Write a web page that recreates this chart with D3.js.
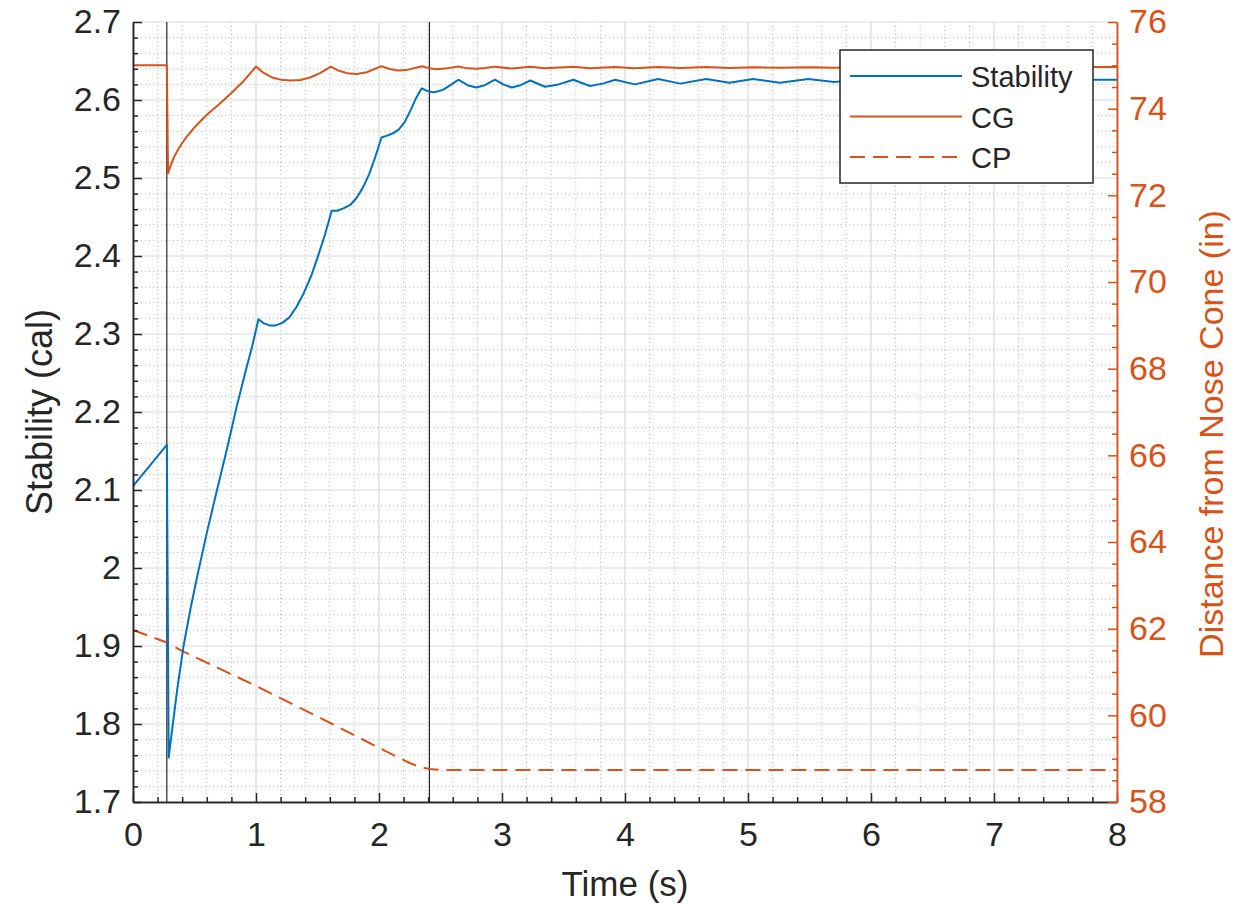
<!DOCTYPE html>
<html>
<head>
<meta charset="utf-8">
<script src="https://cdn.jsdelivr.net/npm/d3@7"></script>
<style>
  body { margin: 0; background: #fff; }
  svg text { font-family: "Liberation Sans", Arial, Helvetica, sans-serif; }
</style>
</head>
<body>
<svg id="chart" width="1239" height="905"></svg>
<script>
// ---- flight data ----
const stabilityTime = [0, 0.275, 0.29, 0.32, 0.36, 0.41, 0.47, 0.53, 0.6, 0.68, 0.76, 0.84, 0.92, 0.97, 1.02,
  1.06, 1.11, 1.16, 1.21, 1.27, 1.33, 1.39, 1.45, 1.5, 1.56, 1.615, 1.66, 1.71, 1.77, 1.82, 1.87, 1.92, 1.97,
  2.02, 2.06, 2.11, 2.16, 2.21, 2.26, 2.3, 2.347, 2.4, 2.45, 2.52, 2.58, 2.645, 2.72, 2.79, 2.86, 2.943, 3.01,
  3.08, 3.15, 3.23, 3.35, 3.46, 3.58, 3.715, 3.82, 3.92, 4.08, 4.27, 4.45, 4.66, 4.85, 5.04, 5.26, 5.49, 5.7,
  5.9, 6.3, 6.7, 7.1, 7.5, 8];
const stabilityCal = [2.105, 2.158, 1.757, 1.795, 1.845, 1.899, 1.95, 1.995, 2.045, 2.098, 2.15, 2.205, 2.255, 2.285, 2.319,
  2.314, 2.311, 2.311, 2.314, 2.321, 2.335, 2.353, 2.375, 2.398, 2.427, 2.458, 2.458, 2.461, 2.466, 2.475, 2.488, 2.505, 2.527,
  2.552, 2.554, 2.557, 2.562, 2.572, 2.588, 2.602, 2.615, 2.611, 2.61, 2.613, 2.619, 2.626, 2.619, 2.616, 2.619, 2.626, 2.62,
  2.616, 2.619, 2.625, 2.617, 2.62, 2.626, 2.618, 2.621, 2.626, 2.62, 2.627, 2.621, 2.627, 2.622, 2.627, 2.622, 2.627, 2.623,
  2.626, 2.624, 2.626, 2.625, 2.626, 2.626];

const cgTime = [0, 0.275, 0.285, 0.31, 0.34, 0.38, 0.43, 0.5, 0.6, 0.7, 0.8, 0.9, 1.0,
  1.06, 1.13, 1.2, 1.28, 1.36, 1.44, 1.52, 1.61, 1.67, 1.74, 1.82, 1.9, 2.02, 2.08, 2.15, 2.22, 2.35,
  2.41, 2.47, 2.55, 2.645, 2.72, 2.79, 2.86, 2.943, 3.08, 3.23, 3.35, 3.58, 3.715, 3.92, 4.08, 4.27,
  4.45, 4.66, 4.85, 5.04, 5.26, 5.49, 5.7, 6.0, 8];
const cgInches = [75.0, 75.0, 72.51, 72.72, 72.92, 73.12, 73.33, 73.57, 73.86, 74.1, 74.36, 74.64, 74.97,
  74.83, 74.72, 74.67, 74.65, 74.66, 74.72, 74.82, 74.97, 74.88, 74.82, 74.8, 74.84, 74.98, 74.92, 74.88, 74.89, 74.98,
  74.93, 74.91, 74.93, 74.975, 74.93, 74.92, 74.94, 74.97, 74.925, 74.965, 74.93, 74.965, 74.935, 74.96, 74.935, 74.96,
  74.94, 74.96, 74.94, 74.955, 74.945, 74.955, 74.945, 74.96, 74.96];

const cpTime = [0, 0.275, 0.41, 1.0, 1.62, 2.0, 2.14, 2.25, 2.33, 2.41, 2.5, 8];
const cpInches = [61.97, 61.68, 61.47, 60.68, 59.8, 59.25, 59.05, 58.9, 58.81, 58.76, 58.74, 58.74];

// flight events marked with vertical lines
const eventTimes = [0.275, 2.41];

// ---- axes ----
const xTicks = [0, 1, 2, 3, 4, 5, 6, 7, 8];
const stabilityTicks = [1.7, 1.8, 1.9, 2, 2.1, 2.2, 2.3, 2.4, 2.5, 2.6, 2.7];
const distanceTicks = [58, 60, 62, 64, 66, 68, 70, 72, 74, 76];
const seriesNames = ["Stability", "CG", "CP"];

const BLUE = "#0072BD", ORANGE = "#D95319", INK = "#262626";

const svg = d3.select("#chart");
const L = 133, R = 1117, T = 22, B = 802;

const x = d3.scaleLinear().domain([0, 8]).range([L, R]);
const yL = d3.scaleLinear().domain([1.7, 2.7]).range([B, T]);
const yR = d3.scaleLinear().domain([58, 76]).range([B, T]);

// minor ticks: 0.2 s on time, 0.02 cal on stability, 0.5 in on distance
const xMinor = d3.range(0, 40 + 1).map(i => i * 0.2).filter((v, i) => i % 5 !== 0);
const yMinor = d3.range(0, 50 + 1).map(i => 1.7 + i * 0.02).filter((v, i) => i % 5 !== 0);
const rMinor = d3.range(0, 36 + 1).map(i => 58 + i * 0.5).filter((v, i) => i % 4 !== 0);

// grid
const grid = svg.append("g");
grid.selectAll("line.xminor").data(xMinor).join("line")
  .attr("x1", d => x(d)).attr("x2", d => x(d)).attr("y1", T).attr("y2", B)
  .attr("stroke", "#b8b8b8").attr("stroke-width", 1).attr("stroke-dasharray", "1,3");
grid.selectAll("line.yminor").data(yMinor).join("line")
  .attr("y1", d => yL(d)).attr("y2", d => yL(d)).attr("x1", L).attr("x2", R)
  .attr("stroke", "#b8b8b8").attr("stroke-width", 1).attr("stroke-dasharray", "1,3");
grid.selectAll("line.xmajor").data(xTicks).join("line")
  .attr("x1", d => x(d)).attr("x2", d => x(d)).attr("y1", T).attr("y2", B)
  .attr("stroke", "#d9d9d9").attr("stroke-width", 1.2);
grid.selectAll("line.ymajor").data(stabilityTicks).join("line")
  .attr("y1", d => yL(d)).attr("y2", d => yL(d)).attr("x1", L).attr("x2", R)
  .attr("stroke", "#d9d9d9").attr("stroke-width", 1.2);

// event markers
svg.append("g").selectAll("line").data(eventTimes).join("line")
  .attr("x1", d => x(d)).attr("x2", d => x(d)).attr("y1", T).attr("y2", B)
  .attr("stroke", INK).attr("stroke-width", 1.2);

// series
const zip = (ts, vs) => ts.map((t, i) => [t, vs[i]]);
const lineL = d3.line().x(d => x(d[0])).y(d => yL(d[1]));
const lineR = d3.line().x(d => x(d[0])).y(d => yR(d[1]));

svg.append("path").datum(zip(cpTime, cpInches)).attr("d", lineR)
  .attr("fill", "none").attr("stroke", ORANGE).attr("stroke-width", 2)
  .attr("stroke-dasharray", "15,8");
svg.append("path").datum(zip(cgTime, cgInches)).attr("d", lineR)
  .attr("fill", "none").attr("stroke", ORANGE).attr("stroke-width", 2).attr("stroke-linejoin", "round");
svg.append("path").datum(zip(stabilityTime, stabilityCal)).attr("d", lineL)
  .attr("fill", "none").attr("stroke", BLUE).attr("stroke-width", 2).attr("stroke-linejoin", "round");

// axes
function styleAxis(g, color) {
  g.selectAll("path.domain").attr("stroke", color).attr("stroke-width", 1.5);
  g.selectAll(".tick line").attr("stroke", color).attr("stroke-width", 1.5);
  g.selectAll(".tick text").attr("fill", color).style("font-size", "34px")
    .style("font-family", '"Liberation Sans", Arial, sans-serif');
}

const fmt = d3.format("~g");
svg.append("g").attr("transform", `translate(${L},0)`)
  .call(d3.axisLeft(yL).tickValues(yMinor).tickSize(-5).tickSizeOuter(0).tickFormat(""))
  .call(g => styleAxis(g, INK));
svg.append("g").attr("transform", `translate(${L},0)`)
  .call(d3.axisLeft(yL).tickValues(stabilityTicks).tickSize(-9).tickSizeOuter(0).tickPadding(12).tickFormat(fmt))
  .call(g => styleAxis(g, INK));

svg.append("g").attr("transform", `translate(0,${B})`)
  .call(d3.axisBottom(x).tickValues(xMinor).tickSize(-5).tickSizeOuter(0).tickFormat(""))
  .call(g => styleAxis(g, INK));
svg.append("g").attr("transform", `translate(0,${B})`)
  .call(d3.axisBottom(x).tickValues(xTicks).tickSize(-9).tickSizeOuter(0).tickPadding(20).tickFormat(fmt))
  .call(g => styleAxis(g, INK));

svg.append("g").attr("transform", `translate(${R},0)`)
  .call(d3.axisRight(yR).tickValues(rMinor).tickSize(-5).tickSizeOuter(0).tickFormat(""))
  .call(g => styleAxis(g, ORANGE));
svg.append("g").attr("transform", `translate(${R},0)`)
  .call(d3.axisRight(yR).tickValues(distanceTicks).tickSize(-9).tickSizeOuter(0).tickPadding(12).tickFormat(fmt))
  .call(g => styleAxis(g, ORANGE));

// axis titles
svg.append("text").attr("x", (L + R) / 2).attr("y", 896).attr("text-anchor", "middle")
  .attr("fill", INK).style("font-size", "35px").text("Time (s)");
svg.append("text").attr("transform", `translate(52,${(T + B) / 2}) rotate(-90)`).attr("text-anchor", "middle")
  .attr("fill", INK).style("font-size", "36px").text("Stability (cal)");
svg.append("text").attr("transform", `translate(1223,${(T + B) / 2 + 22}) rotate(-90)`).attr("text-anchor", "middle")
  .attr("fill", ORANGE).style("font-size", "34px").text("Distance from Nose Cone (in)");

// legend
const leg = svg.append("g");
leg.append("rect").attr("x", 840).attr("y", 50).attr("width", 253).attr("height", 133)
  .attr("fill", "#fff").attr("stroke", INK).attr("stroke-width", 1.5);
const legStyles = [
  { color: BLUE, dash: null },
  { color: ORANGE, dash: null },
  { color: ORANGE, dash: "15,8" }
];
const legRows = leg.selectAll("g.row").data(seriesNames).join("g")
  .attr("transform", (d, i) => `translate(0,${76 + i * 40.5})`);
legRows.append("line").attr("x1", 850).attr("x2", 962).attr("y1", 0).attr("y2", 0)
  .attr("stroke", (d, i) => legStyles[i].color).attr("stroke-width", 2)
  .attr("stroke-dasharray", (d, i) => legStyles[i].dash);
legRows.append("text").attr("x", 971).attr("y", 11).attr("fill", INK)
  .style("font-size", "29px").text(d => d);
</script>
</body>
</html>
